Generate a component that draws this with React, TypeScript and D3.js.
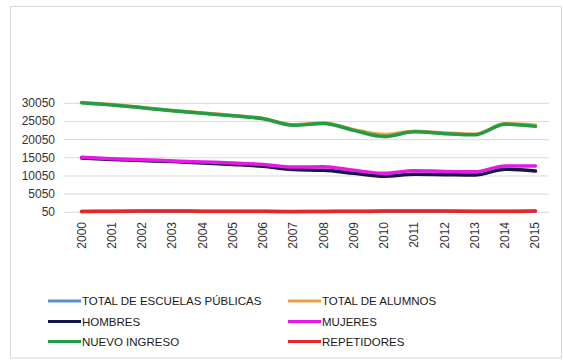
import React from "react";
import * as d3 from "d3";

const years = ["2000", "2001", "2002", "2003", "2004", "2005", "2006", "2007", "2008", "2009", "2010", "2011", "2012", "2013", "2014", "2015"];
const yTicks = [50, 5050, 10050, 15050, 20050, 25050, 30050];

const escuelas = [260, 300, 320, 330, 300, 290, 280, 220, 260, 280, 320, 360, 330, 300, 290, 330];
const alumnos = [30300, 29700, 28900, 28100, 27400, 26700, 25900, 24150, 24650, 22800, 21450, 22350, 21850, 21550, 24400, 24000];
const hombres = [15000, 14600, 14300, 14000, 13600, 13200, 12700, 11800, 11600, 10800, 10000, 10500, 10400, 10300, 11900, 11400];
const mujeres = [15200, 14800, 14500, 14200, 13900, 13600, 13200, 12500, 12600, 11600, 10800, 11500, 11300, 11200, 12800, 12800];
const nuevoIngreso = [30200, 29600, 28800, 28000, 27300, 26600, 25800, 24000, 24500, 22600, 20900, 22200, 21700, 21400, 24300, 23700];
const repetidores = [300, 350, 380, 400, 350, 330, 320, 250, 300, 320, 380, 420, 380, 350, 330, 380];

const series = [
  { name: "TOTAL DE ESCUELAS PÚBLICAS", values: escuelas, color: "#5b8fc7" },
  { name: "TOTAL DE ALUMNOS", values: alumnos, color: "#e8a040" },
  { name: "HOMBRES", values: hombres, color: "#14144a" },
  { name: "MUJERES", values: mujeres, color: "#e619e6" },
  { name: "NUEVO INGRESO", values: nuevoIngreso, color: "#239c45" },
  { name: "REPETIDORES", values: repetidores, color: "#e5262b" },
];

export default function App() {
  const width = 563;
  const height = 364;
  const plot = { left: 64, right: 549, top: 103.3, bottom: 212.3 };

  const x = d3.scalePoint<string>()
    .domain(years)
    .range([66.4, 550.6])
    .padding(0.5);

  const y = d3.scaleLinear()
    .domain([50, 30050])
    .range([plot.bottom, plot.top]);

  const line = d3.line<number>()
    .x((_, i) => x(years[i]) as number)
    .y((d) => y(d))
    .curve(d3.curveMonotoneX);

  const font = "'Liberation Sans', Arial, sans-serif";
  const legendRows = [301, 321.5, 341.5];
  const legendCols = [48, 288];

  return (
    <div style={{ position: "absolute", left: 0, top: 0 }}>
      <svg width={width} height={height} style={{ display: "block", background: "#fff" }}>
        <rect x={10.5} y={6.5} width={551} height={351.5} fill="#fff" stroke="#d9d9d9" />

        {/* gridlines + y labels */}
        {yTicks.map((t) => (
          <g key={t}>
            <line x1={plot.left} x2={plot.right} y1={y(t)} y2={y(t)} stroke="#d9d9d9" />
            <text x={55} y={y(t)} textAnchor="end" dominantBaseline="central"
              fontFamily={font} fontSize={12} fill="#333">{t}</text>
          </g>
        ))}

        {/* x labels */}
        {years.map((yr) => (
          <text key={yr} transform={`translate(${x(yr)},222) rotate(-90)`} textAnchor="end"
            dominantBaseline="central" fontFamily={font} fontSize={12} fill="#333">{yr}</text>
        ))}

        {/* lines */}
        {series.map((s) => (
          <path key={s.name} d={line(s.values) || ""} fill="none" stroke={s.color}
            strokeWidth={3.5} strokeLinejoin="round" strokeLinecap="round" />
        ))}

        {/* legend */}
        {series.map((s, i) => {
          const lx = legendCols[i % 2];
          const ly = legendRows[Math.floor(i / 2)];
          return (
            <g key={s.name}>
              <line x1={lx} x2={lx + 33} y1={ly} y2={ly} stroke={s.color} strokeWidth={3} />
              <text x={lx + 34} y={ly} dominantBaseline="central" fontFamily={font}
                fontSize={11.5} fill="#1a1a1a">{s.name}</text>
            </g>
          );
        })}
      </svg>
    </div>
  );
}
